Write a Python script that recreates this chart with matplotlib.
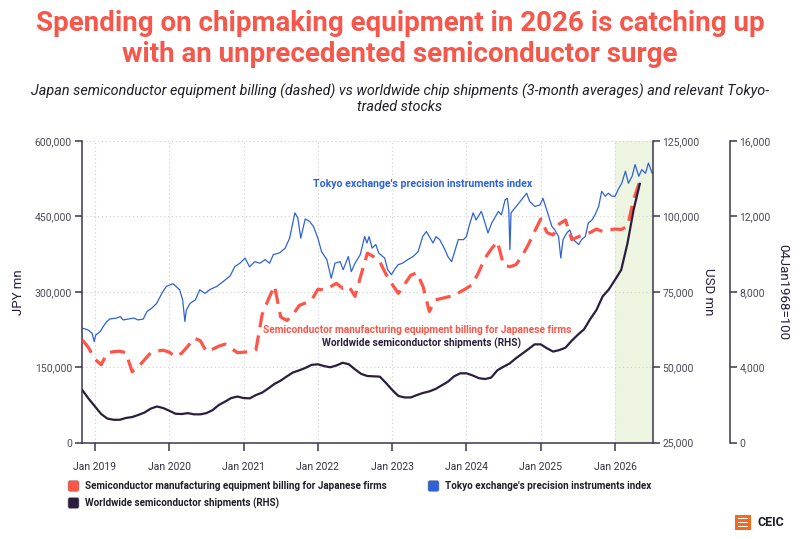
import matplotlib
matplotlib.use("Agg")
import matplotlib.pyplot as plt
import numpy as np
from matplotlib.patches import FancyBboxPatch, Rectangle
from matplotlib.ticker import FuncFormatter

plt.rcParams['font.family'] = ['Roboto', 'DejaVu Sans']

# ---------------- DATA ----------------
# Monthly series from Nov 2018 to May 2026
months_start = (2018, 11)
# Semiconductor manufacturing equipment billing for Japanese firms (JPY mn, thousands)
billing_k = [204, 188, 166, 155, 179, 181, 182, 179, 141, 151, 165, 179,
             182, 184, 180, 171, 178, 192, 208, 203, 181, 186, 192, 196,
             188, 179, 180, 181, 185, 255, 285, 312, 250, 243, 255, 273,
             278, 284, 305, 304, 310, 317, 307, 311, 291, 335, 377, 370,
             360, 335, 315, 297, 315, 333, 338, 310, 261, 284, 287, 290,
             292, 300, 307, 315, 340, 367, 385, 400, 353, 350, 354, 372,
             394, 420, 445, 418, 413, 435, 443, 404, 409, 414, 418, 425,
             420, 423, 425, 424, 430, 483, 520]
# Worldwide semiconductor shipments, 3-month average (USD mn, thousands)
shipments_k = [42.3, 39.5, 37.0, 34.5, 33.0, 32.6, 32.6, 33.2, 33.5, 34.2, 35.0, 36.3,
               37.0, 36.5, 35.6, 34.6, 34.5, 34.8, 34.4, 34.4, 34.8, 35.8, 37.5, 38.6,
               39.8, 40.3, 39.8, 39.7, 40.8, 41.6, 43.0, 44.5, 45.6, 47.0, 48.3, 49.0,
               49.8, 50.8, 51.0, 50.4, 50.0, 50.6, 51.5, 51.0, 49.3, 47.8, 47.1, 47.0,
               46.9, 44.8, 42.5, 40.5, 40.0, 40.0, 40.8, 41.5, 42.0, 42.8, 44.0, 45.2,
               47.0, 48.0, 48.0, 47.3, 46.4, 46.1, 46.6, 49.0, 50.2, 51.3, 53.0, 54.5,
               56.0, 57.6, 57.6, 56.3, 55.2, 55.7, 56.5, 58.8, 60.8, 62.6, 66.0, 69.0,
               73.5, 75.8, 79.0, 82.3, 91.0, 102.2, 110.8]

# Tokyo exchange's precision instruments index (04Jan1968=100)
index_years = [2018.82, 2018.87, 2018.91, 2018.96, 2018.99, 2019.01, 2019.07, 2019.11, 2019.16, 2019.20,
               2019.29, 2019.34, 2019.38, 2019.45, 2019.52, 2019.58, 2019.65, 2019.70, 2019.76, 2019.83,
               2019.90, 2019.96, 2020.05, 2020.09, 2020.14, 2020.18, 2020.21, 2020.23, 2020.28, 2020.35,
               2020.41, 2020.48, 2020.55, 2020.64, 2020.73, 2020.82, 2020.88, 2020.95, 2021.02, 2021.08,
               2021.15, 2021.22, 2021.29, 2021.35, 2021.40, 2021.49, 2021.56, 2021.62, 2021.69, 2021.73,
               2021.77, 2021.83, 2021.89, 2021.94, 2022.00, 2022.05, 2022.12, 2022.18, 2022.23, 2022.30,
               2022.34, 2022.41, 2022.45, 2022.50, 2022.57, 2022.63, 2022.66, 2022.69, 2022.73, 2022.78,
               2022.82, 2022.90, 2022.94, 2022.99, 2023.03, 2023.08, 2023.14, 2023.21, 2023.28, 2023.35,
               2023.41, 2023.46, 2023.50, 2023.55, 2023.59, 2023.64, 2023.71, 2023.75, 2023.80, 2023.85,
               2023.89, 2023.96, 2024.00, 2024.04, 2024.09, 2024.13, 2024.20, 2024.25, 2024.29, 2024.34,
               2024.38, 2024.43, 2024.47, 2024.52, 2024.55, 2024.57, 2024.585, 2024.60, 2024.67, 2024.74,
               2024.81, 2024.85, 2024.92, 2024.99, 2025.03, 2025.08, 2025.15, 2025.19, 2025.24, 2025.27,
               2025.30, 2025.35, 2025.39, 2025.44, 2025.51, 2025.55, 2025.60, 2025.64, 2025.69, 2025.73,
               2025.78, 2025.82, 2025.87, 2025.91, 2025.96, 2026.00, 2026.05, 2026.09, 2026.14, 2026.18,
               2026.23, 2026.27, 2026.32, 2026.36, 2026.41, 2026.45, 2026.50]
index_values = [6080, 6030, 5970, 5810, 5360, 5710, 5890, 6160, 6430, 6560,
                6610, 6690, 6510, 6560, 6610, 6510, 6560, 6960, 7120, 7390,
                7920, 8290, 8430, 8290, 8110, 7570, 6430, 7040, 7390, 7570,
                8110, 7920, 8130, 8290, 8560, 8850, 9330, 9520, 9790, 9330,
                9600, 9520, 9710, 9520, 9970, 10080, 10320, 10850, 12190, 11920,
                10850, 11870, 11730, 11470, 10850, 10130, 9710, 8720, 9520, 9600,
                9170, 9870, 9070, 9520, 9970, 10930, 10590, 10930, 10320, 10510,
                10050, 9790, 9170, 8910, 9170, 9440, 9520, 9710, 9870, 10130,
                10930, 11200, 10930, 10590, 10930, 10770, 10240, 9870, 9600, 10240,
                10770, 10770, 10930, 11550, 12190, 11810, 12270, 11650, 11120, 11650,
                11920, 12270, 12080, 12880, 12960, 12350, 10240, 12190, 12530, 12880,
                13230, 12800, 12530, 12610, 12960, 12350, 11470, 11280, 10930, 9790,
                10770, 11120, 11280, 10770, 10510, 10770, 10930, 11650, 11810, 12080,
                12530, 13330, 13070, 13230, 13070, 13070, 13490, 13760, 14400, 13760,
                14130, 14750, 14130, 14480, 14290, 14830, 14290]

tick_years = [2019, 2020, 2021, 2022, 2023, 2024, 2025, 2026]
tick_labels = ["Jan 2019", "Jan 2020", "Jan 2021", "Jan 2022",
               "Jan 2023", "Jan 2024", "Jan 2025", "Jan 2026"]

title = "Spending on chipmaking equipment in 2026 is catching up\nwith an unprecedented semiconductor surge"
subtitle = ("Japan semiconductor equipment billing (dashed) vs worldwide chip shipments (3-month averages) and relevant Tokyo-\n"
            "traded stocks")

# ---------------- STYLE ----------------
RED = "#FF5447"
BLUE = "#2F62D6"
DARK = "#2A1E3E"
SPINE = "#3D3550"
TICKC = "#4A4A55"
GRID = "#CFCFCF"
SHADE = "#EDF4DF"

fig = plt.figure(figsize=(8, 5.39), dpi=100)
ax3 = fig.add_axes([81.7 / 800, 1 - 442.7 / 539, (652.7 - 81.7) / 800, (442.7 - 141) / 539])
ax = ax3.twinx()
ax2 = ax3.twinx()

n = len(billing_k)
month_x = np.array([months_start[0] + (months_start[1] - 1 + i) / 12 for i in range(n)])

xmin, xmax = 2018.821, 2026.507
ax3.set_xlim(xmin, xmax)
ax3.axvspan(2026.0, xmax, color=SHADE, zorder=0, lw=0)

ax.set_ylim(0, 600000)
ax2.set_ylim(25000, 125000)
ax3.set_ylim(0, 16000)

# grid (on the lowest axes)
for t in tick_years:
    ax3.axvline(t, color=GRID, lw=0.8, ls=(0, (1, 2.5)), zorder=0.5)
for v in [4000, 8000, 12000, 16000]:
    ax3.axhline(v, color=GRID, lw=0.8, ls=(0, (1, 2.5)), zorder=0.5)

# blue index on third axis
ax3.plot(index_years, index_values, color=BLUE, lw=0.9, zorder=2)
# red billing on left axis
ax.plot(month_x, np.array(billing_k) * 1000, color=RED, lw=2.3, dashes=(4.8, 2.6), zorder=3)
# black shipments on right axis
ax2.plot(month_x, np.array(shipments_k) * 1000, color=DARK, lw=1.6, zorder=4)

ax.patch.set_visible(False)
ax2.patch.set_visible(False)

ax.set_yticks([0, 150000, 300000, 450000, 600000])
ax2.set_yticks([25000, 50000, 75000, 100000, 125000])
ax3.set_yticks([0, 4000, 8000, 12000, 16000])
fmt = FuncFormatter(lambda v, p: f"{int(v):,}")
for a in (ax, ax2, ax3):
    a.yaxis.set_major_formatter(fmt)
    a.tick_params(axis='y', colors=SPINE, labelcolor=TICKC, labelsize=7.5, length=5, width=1.1, pad=2)
    for s in a.spines.values():
        s.set_visible(False)

ax.yaxis.set_ticks_position('left')
ax.yaxis.set_label_position('left')
ax3.yaxis.set_ticks_position('right')
ax3.yaxis.set_label_position('right')

ax3.set_xticks(tick_years)
ax3.set_xticklabels(tick_labels)
ax3.tick_params(axis='x', colors=SPINE, labelcolor="#333340", labelsize=7.5, length=6, width=1.1, pad=8)
for a, side in ((ax, 'left'), (ax3, 'bottom'), (ax2, 'right')):
    a.spines[side].set_visible(True)
    a.spines[side].set_color(SPINE)
    a.spines[side].set_linewidth(1.1)
ax3.spines['right'].set_visible(True)
ax3.spines['right'].set_color(SPINE)
ax3.spines['right'].set_linewidth(1.1)
ax3.spines['right'].set_position(('outward', 55.5))

ax.set_ylabel("JPY mn", fontsize=9.5, color=DARK, labelpad=7)
ax2.set_ylabel("USD mn", fontsize=9.5, color=DARK, rotation=-90, labelpad=11)
ax3.set_ylabel("04Jan1968=100", fontsize=9.5, color=DARK, rotation=-90, labelpad=13)

def ftext(x, y, s, **kw):
    fig.text(x / 800, 1 - y / 539, s, **kw)

ftext(423, 184, "Tokyo exchange's precision instruments index", color=BLUE, fontsize=7.6,
      fontweight='bold', ha='center', va='center')
ftext(417, 330, "Semiconductor manufacturing equipment billing for Japanese firms", color=RED,
      fontsize=7.25, fontweight='bold', ha='center', va='center')
ftext(421, 343, "Worldwide semiconductor shipments (RHS)", color=DARK, fontsize=7.25,
      fontweight='bold', ha='center', va='center')

# title and subtitle
ftext(400, 39, title, color="#F5574A", fontsize=20, fontweight='bold', ha='center', va='center',
      linespacing=1.22)
ftext(400, 99, subtitle, color="#1E1E28", fontsize=10.4, style='italic', ha='center', va='center',
      linespacing=1.12)

# legend
def legend_item(x, y, color, label):
    box = FancyBboxPatch((x / 800, 1 - (y + 5.5) / 539), 11 / 800, 11 / 539,
                         boxstyle="round,pad=0,rounding_size=0.003", transform=fig.transFigure,
                         facecolor=color, edgecolor="#999999", lw=0.4)
    fig.patches.append(box)
    ftext(x + 17, y, label, color="#1E1E28", fontsize=7.1, fontweight='bold', ha='left', va='center')

legend_item(68, 486, RED, "Semiconductor manufacturing equipment billing for Japanese firms")
legend_item(428, 486, BLUE, "Tokyo exchange's precision instruments index")
legend_item(68, 503, DARK, "Worldwide semiconductor shipments (RHS)")

# CEIC logo
fig.patches.append(Rectangle((735 / 800, 1 - 530 / 539), 16 / 800, 15 / 539,
                             transform=fig.transFigure, facecolor="#F26B21", edgecolor='none'))
for yy in (518.5, 522.5, 526.5):
    fig.patches.append(Rectangle((738 / 800, 1 - (yy + 0.8) / 539), 10 / 800, 1.6 / 539,
                                 transform=fig.transFigure, facecolor="white", edgecolor='none'))
ftext(757, 523, "CEIC", color="#1E1E28", fontsize=9, fontweight='bold', ha='left', va='center')

fig.savefig("out.png", dpi=100)
